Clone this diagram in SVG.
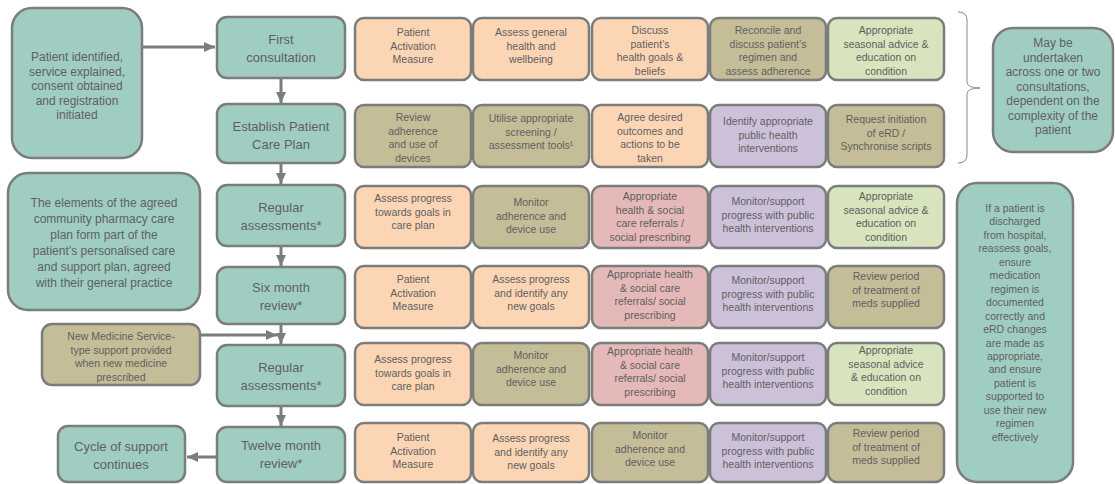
<svg xmlns="http://www.w3.org/2000/svg" width="1115" height="484" viewBox="0 0 1115 484">
<defs>
<style>
.b{stroke:#7a7d7b;stroke-width:2.5}
.teal{fill:#a0cdc1}
.peach{fill:#fcd5b5}
.olive{fill:#c5bd98}
.pink{fill:#e5b9b8}
.lav{fill:#cdc1da}
.green{fill:#d8e4bd}
text{font-family:"Liberation Sans",Arial,sans-serif;fill:#5f5f5f;text-anchor:middle}
.s{font-size:10.5px}
.m{font-size:12px}
.p{font-size:13px}
.conn{stroke:#7a7d7b;stroke-width:3;fill:none}
</style>
<marker id="ah" markerUnits="userSpaceOnUse" markerWidth="12" markerHeight="12" viewBox="0 0 12 12" refX="11" refY="6" orient="auto">
<path d="M0,1 L11,6 L0,11 Z" fill="#7a7d7b"/>
</marker>
</defs>

<g id="connectors">
<line class="conn" x1="143" y1="47" x2="215" y2="47" marker-end="url(#ah)"/>
<line class="conn" x1="281" y1="79" x2="281" y2="103" marker-end="url(#ah)"/>
<line class="conn" x1="281" y1="164" x2="281" y2="184" marker-end="url(#ah)"/>
<line class="conn" x1="281" y1="247" x2="281" y2="266" marker-end="url(#ah)"/>
<line class="conn" x1="281" y1="325" x2="281" y2="344" marker-end="url(#ah)"/>
<line class="conn" x1="201" y1="335" x2="277" y2="335" marker-end="url(#ah)"/>
<line class="conn" x1="281" y1="407" x2="281" y2="426" marker-end="url(#ah)"/>
<line class="conn" x1="216" y1="457" x2="187" y2="457" marker-end="url(#ah)"/>
<path d="M958,12 Q967,12 967,20 L967,82 Q967,88 980,88 Q967,88 967,94 L967,155 Q967,163 958,163" fill="none" stroke="#8a8a8a" stroke-width="1"/>
</g>

<g id="n-start"><rect class="b teal" x="12" y="8" width="130" height="150" rx="20"/>
<text class="m" x="77" y="61"><tspan x="77">Patient identified,</tspan><tspan x="77" dy="14.5">service explained,</tspan><tspan x="77" dy="14.5">consent obtained</tspan><tspan x="77" dy="14.5">and registration</tspan><tspan x="77" dy="14.5">initiated</tspan></text></g>

<g id="n-elements"><rect class="b teal" x="8" y="173" width="192" height="137" rx="20"/>
<text class="m" x="104" y="207"><tspan x="104">The elements of the agreed</tspan><tspan x="104" dy="16">community pharmacy care</tspan><tspan x="104" dy="16">plan form part of the</tspan><tspan x="104" dy="16">patient’s personalised care</tspan><tspan x="104" dy="16">and support plan, agreed</tspan><tspan x="104" dy="16">with their general practice</tspan></text></g>

<g id="n-nms"><rect class="b olive" x="42" y="324" width="158" height="61" rx="10"/>
<text class="s" x="121" y="340"><tspan x="121">New Medicine Service-</tspan><tspan x="121" dy="13.5">type support provided</tspan><tspan x="121" dy="13.5">when new medicine</tspan><tspan x="121" dy="13.5">prescribed</tspan></text></g>

<g id="n-cycle"><rect class="b teal" x="58" y="426" width="127" height="56" rx="10"/>
<text class="p" x="121" y="451"><tspan x="121">Cycle of support</tspan><tspan x="121" dy="18">continues</tspan></text></g>

<g id="n-first"><rect class="b teal" x="217" y="17" width="128" height="61" rx="10"/>
<text class="p" x="281" y="44"><tspan x="281">First</tspan><tspan x="281" dy="18">consultation</tspan></text></g>
<g id="n-plan"><rect class="b teal" x="217" y="104" width="128" height="59" rx="10"/>
<text class="p" x="281" y="131"><tspan x="281">Establish Patient</tspan><tspan x="281" dy="18">Care Plan</tspan></text></g>
<g id="n-reg1"><rect class="b teal" x="217" y="185" width="128" height="61" rx="10"/>
<text class="p" x="281" y="212"><tspan x="281">Regular</tspan><tspan x="281" dy="18">assessments*</tspan></text></g>
<g id="n-six"><rect class="b teal" x="217" y="267" width="128" height="57" rx="10"/>
<text class="p" x="281" y="292"><tspan x="281">Six month</tspan><tspan x="281" dy="18">review*</tspan></text></g>
<g id="n-reg2"><rect class="b teal" x="217" y="345" width="128" height="61" rx="10"/>
<text class="p" x="281" y="372"><tspan x="281">Regular</tspan><tspan x="281" dy="18">assessments*</tspan></text></g>
<g id="n-twelve"><rect class="b teal" x="217" y="427" width="128" height="55" rx="10"/>
<text class="p" x="281" y="450"><tspan x="281">Twelve month</tspan><tspan x="281" dy="18">review*</tspan></text></g>

<!-- Row 1 -->
<g id="r1c1"><rect class="b peach" x="355" y="18" width="116" height="62" rx="9"/>
<text class="s" x="413" y="36"><tspan x="413">Patient</tspan><tspan x="413" dy="13.5">Activation</tspan><tspan x="413" dy="13.5">Measure</tspan></text></g>
<g id="r1c2"><rect class="b peach" x="473" y="18" width="116" height="62" rx="9"/>
<text class="s" x="531" y="36"><tspan x="531">Assess general</tspan><tspan x="531" dy="13.5">health and</tspan><tspan x="531" dy="13.5">wellbeing</tspan></text></g>
<g id="r1c3"><rect class="b peach" x="592" y="18" width="116" height="62" rx="9"/>
<text class="s" x="650" y="34"><tspan x="650">Discuss</tspan><tspan x="650" dy="13.5">patient’s</tspan><tspan x="650" dy="13.5">health goals &amp;</tspan><tspan x="650" dy="13.5">beliefs</tspan></text></g>
<g id="r1c4"><rect class="b olive" x="710" y="18" width="116" height="62" rx="9"/>
<text class="s" x="768" y="34"><tspan x="768">Reconcile and</tspan><tspan x="768" dy="13.5">discuss patient’s</tspan><tspan x="768" dy="13.5">regimen and</tspan><tspan x="768" dy="13.5">assess adherence</tspan></text></g>
<g id="r1c5"><rect class="b green" x="828" y="18" width="116" height="62" rx="9"/>
<text class="s" x="886" y="34"><tspan x="886">Appropriate</tspan><tspan x="886" dy="13.5">seasonal advice &amp;</tspan><tspan x="886" dy="13.5">education on</tspan><tspan x="886" dy="13.5">condition</tspan></text></g>

<!-- Row 2 -->
<g id="r2c1"><rect class="b olive" x="355" y="105" width="116" height="62" rx="9"/>
<text class="s" x="413" y="121"><tspan x="413">Review</tspan><tspan x="413" dy="13.5">adherence</tspan><tspan x="413" dy="13.5">and use of</tspan><tspan x="413" dy="13.5">devices</tspan></text></g>
<g id="r2c2"><rect class="b olive" x="473" y="105" width="116" height="62" rx="9"/>
<text class="s" x="531" y="122"><tspan x="531">Utilise appropriate</tspan><tspan x="531" dy="13.5">screening /</tspan><tspan x="531" dy="13.5">assessment tools¹</tspan></text></g>
<g id="r2c3"><rect class="b peach" x="592" y="105" width="116" height="62" rx="9"/>
<text class="s" x="650" y="121"><tspan x="650">Agree desired</tspan><tspan x="650" dy="13.5">outcomes and</tspan><tspan x="650" dy="13.5">actions to be</tspan><tspan x="650" dy="13.5">taken</tspan></text></g>
<g id="r2c4"><rect class="b lav" x="710" y="105" width="116" height="62" rx="9"/>
<text class="s" x="768" y="125"><tspan x="768">Identify appropriate</tspan><tspan x="768" dy="13.5">public health</tspan><tspan x="768" dy="13.5">interventions</tspan></text></g>
<g id="r2c5"><rect class="b olive" x="828" y="105" width="116" height="62" rx="9"/>
<text class="s" x="886" y="123"><tspan x="886">Request initiation</tspan><tspan x="886" dy="13.5">of eRD /</tspan><tspan x="886" dy="13.5">Synchronise scripts</tspan></text></g>

<!-- Row 3 -->
<g id="r3c1"><rect class="b peach" x="355" y="186" width="116" height="62" rx="9"/>
<text class="s" x="413" y="202"><tspan x="413">Assess progress</tspan><tspan x="413" dy="13.5">towards goals in</tspan><tspan x="413" dy="13.5">care plan</tspan></text></g>
<g id="r3c2"><rect class="b olive" x="473" y="186" width="116" height="62" rx="9"/>
<text class="s" x="531" y="206"><tspan x="531">Monitor</tspan><tspan x="531" dy="13.5">adherence and</tspan><tspan x="531" dy="13.5">device use</tspan></text></g>
<g id="r3c3"><rect class="b pink" x="592" y="186" width="116" height="62" rx="9"/>
<text class="s" x="650" y="200"><tspan x="650">Appropriate</tspan><tspan x="650" dy="13.5">health &amp; social</tspan><tspan x="650" dy="13.5">care referrals /</tspan><tspan x="650" dy="13.5">social prescribing</tspan></text></g>
<g id="r3c4"><rect class="b lav" x="710" y="186" width="116" height="62" rx="9"/>
<text class="s" x="768" y="205"><tspan x="768">Monitor/support</tspan><tspan x="768" dy="13.5">progress with public</tspan><tspan x="768" dy="13.5">health interventions</tspan></text></g>
<g id="r3c5"><rect class="b green" x="828" y="186" width="116" height="62" rx="9"/>
<text class="s" x="886" y="200"><tspan x="886">Appropriate</tspan><tspan x="886" dy="13.5">seasonal advice &amp;</tspan><tspan x="886" dy="13.5">education on</tspan><tspan x="886" dy="13.5">condition</tspan></text></g>

<!-- Row 4 -->
<g id="r4c1"><rect class="b peach" x="355" y="266" width="116" height="62" rx="9"/>
<text class="s" x="413" y="283"><tspan x="413">Patient</tspan><tspan x="413" dy="13.5">Activation</tspan><tspan x="413" dy="13.5">Measure</tspan></text></g>
<g id="r4c2"><rect class="b peach" x="473" y="266" width="116" height="62" rx="9"/>
<text class="s" x="531" y="283"><tspan x="531">Assess progress</tspan><tspan x="531" dy="13.5">and identify any</tspan><tspan x="531" dy="13.5">new goals</tspan></text></g>
<g id="r4c3"><rect class="b pink" x="592" y="266" width="116" height="62" rx="9"/>
<text class="s" x="650" y="278"><tspan x="650">Appropriate health</tspan><tspan x="650" dy="13.5">&amp; social care</tspan><tspan x="650" dy="13.5">referrals/ social</tspan><tspan x="650" dy="13.5">prescribing</tspan></text></g>
<g id="r4c4"><rect class="b lav" x="710" y="266" width="116" height="62" rx="9"/>
<text class="s" x="768" y="284"><tspan x="768">Monitor/support</tspan><tspan x="768" dy="13.5">progress with public</tspan><tspan x="768" dy="13.5">health interventions</tspan></text></g>
<g id="r4c5"><rect class="b olive" x="828" y="266" width="116" height="62" rx="9"/>
<text class="s" x="886" y="280"><tspan x="886">Review period</tspan><tspan x="886" dy="13.5">of treatment of</tspan><tspan x="886" dy="13.5">meds supplied</tspan></text></g>

<!-- Row 5 -->
<g id="r5c1"><rect class="b peach" x="355" y="343" width="116" height="62" rx="9"/>
<text class="s" x="413" y="363"><tspan x="413">Assess progress</tspan><tspan x="413" dy="13.5">towards goals in</tspan><tspan x="413" dy="13.5">care plan</tspan></text></g>
<g id="r5c2"><rect class="b olive" x="473" y="343" width="116" height="62" rx="9"/>
<text class="s" x="531" y="359"><tspan x="531">Monitor</tspan><tspan x="531" dy="13.5">adherence and</tspan><tspan x="531" dy="13.5">device use</tspan></text></g>
<g id="r5c3"><rect class="b pink" x="592" y="343" width="116" height="62" rx="9"/>
<text class="s" x="650" y="355"><tspan x="650">Appropriate health</tspan><tspan x="650" dy="13.5">&amp; social care</tspan><tspan x="650" dy="13.5">referrals/ social</tspan><tspan x="650" dy="13.5">prescribing</tspan></text></g>
<g id="r5c4"><rect class="b lav" x="710" y="343" width="116" height="62" rx="9"/>
<text class="s" x="768" y="361"><tspan x="768">Monitor/support</tspan><tspan x="768" dy="13.5">progress with public</tspan><tspan x="768" dy="13.5">health interventions</tspan></text></g>
<g id="r5c5"><rect class="b green" x="828" y="343" width="116" height="62" rx="9"/>
<text class="s" x="886" y="354"><tspan x="886">Appropriate</tspan><tspan x="886" dy="13.5">seasonal advice</tspan><tspan x="886" dy="13.5">&amp; education on</tspan><tspan x="886" dy="13.5">condition</tspan></text></g>

<!-- Row 6 -->
<g id="r6c1"><rect class="b peach" x="355" y="423" width="116" height="59" rx="9"/>
<text class="s" x="413" y="441"><tspan x="413">Patient</tspan><tspan x="413" dy="13.5">Activation</tspan><tspan x="413" dy="13.5">Measure</tspan></text></g>
<g id="r6c2"><rect class="b peach" x="473" y="423" width="116" height="59" rx="9"/>
<text class="s" x="531" y="442"><tspan x="531">Assess progress</tspan><tspan x="531" dy="13.5">and identify any</tspan><tspan x="531" dy="13.5">new goals</tspan></text></g>
<g id="r6c3"><rect class="b olive" x="592" y="423" width="116" height="59" rx="9"/>
<text class="s" x="650" y="439"><tspan x="650">Monitor</tspan><tspan x="650" dy="13.5">adherence and</tspan><tspan x="650" dy="13.5">device use</tspan></text></g>
<g id="r6c4"><rect class="b lav" x="710" y="423" width="116" height="59" rx="9"/>
<text class="s" x="768" y="441"><tspan x="768">Monitor/support</tspan><tspan x="768" dy="13.5">progress with public</tspan><tspan x="768" dy="13.5">health interventions</tspan></text></g>
<g id="r6c5"><rect class="b olive" x="828" y="423" width="116" height="59" rx="9"/>
<text class="s" x="886" y="437"><tspan x="886">Review period</tspan><tspan x="886" dy="13.5">of treatment of</tspan><tspan x="886" dy="13.5">meds supplied</tspan></text></g>

<g id="n-maybe"><rect class="b teal" x="993" y="28" width="120" height="124" rx="20"/>
<text class="m" x="1053" y="47"><tspan x="1053">May be</tspan><tspan x="1053" dy="14.5">undertaken</tspan><tspan x="1053" dy="14.5">across one or two</tspan><tspan x="1053" dy="14.5">consultations,</tspan><tspan x="1053" dy="14.5">dependent on the</tspan><tspan x="1053" dy="14.5">complexity of the</tspan><tspan x="1053" dy="14.5">patient</tspan></text></g>

<g id="n-discharge"><rect class="b teal" x="957" y="183" width="116" height="299" rx="20"/>
<text class="s" x="1015" y="212"><tspan x="1015">If a patient is</tspan><tspan x="1015" dy="13.45">discharged</tspan><tspan x="1015" dy="13.45">from hospital,</tspan><tspan x="1015" dy="13.45">reassess goals,</tspan><tspan x="1015" dy="13.45">ensure</tspan><tspan x="1015" dy="13.45">medication</tspan><tspan x="1015" dy="13.45">regimen is</tspan><tspan x="1015" dy="13.45">documented</tspan><tspan x="1015" dy="13.45">correctly and</tspan><tspan x="1015" dy="13.45">eRD changes</tspan><tspan x="1015" dy="13.45">are made as</tspan><tspan x="1015" dy="13.45">appropriate,</tspan><tspan x="1015" dy="13.45">and ensure</tspan><tspan x="1015" dy="13.45">patient is</tspan><tspan x="1015" dy="13.45">supported to</tspan><tspan x="1015" dy="13.45">use their new</tspan><tspan x="1015" dy="13.45">regimen</tspan><tspan x="1015" dy="13.45">effectively</tspan></text></g>
</svg>
